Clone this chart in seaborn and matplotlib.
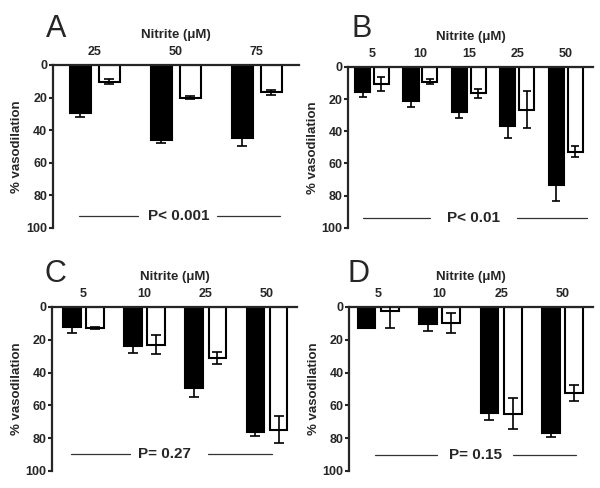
import pandas as pd
import seaborn as sns
import matplotlib.pyplot as plt

# Nitrite concentrations (uM) and % vasodilation
a_conc = ['25', '50', '75']
a_black = [29.6, 45.9, 44.9]
a_black_err = [2.4, 2.1, 4.7]
a_white = [10.2, 20.0, 16.9]
a_white_err = [1.6, 1.2, 1.8]

b_conc = ['5', '10', '15', '25', '50']
b_black = [15.7, 21.5, 28.2, 37.0, 73.3]
b_black_err = [2.9, 3.3, 3.7, 7.3, 9.7]
b_white = [10.6, 9.1, 16.4, 26.5, 52.6]
b_white_err = [4.4, 1.6, 2.7, 11.3, 3.2]

c_conc = ['5', '10', '25', '50']
c_black = [12.0, 23.8, 49.6, 76.0]
c_black_err = [3.6, 4.0, 5.1, 3.0]
c_white = [12.8, 23.0, 31.3, 74.8]
c_white_err = [0.8, 5.9, 3.7, 8.3]

d_conc = ['5', '10', '25', '50']
d_black = [12.6, 10.4, 64.4, 76.6]
d_black_err = [0.5, 4.2, 4.7, 2.9]
d_white = [2.4, 9.8, 65.0, 52.6]
d_white_err = [10.2, 6.2, 9.7, 4.7]

p_labels = ['P< 0.001', 'P< 0.01', 'P= 0.27', 'P= 0.15']
panel_letters = ['A', 'B', 'C', 'D']

sns.set_style('ticks')
plt.rcParams['font.family'] = ['Liberation Sans', 'DejaVu Sans']
plt.rcParams['font.weight'] = 'bold'

fig = plt.figure(figsize=(6, 4.88), dpi=100)

# axes rectangles (figure fractions) and bar layout per panel
panels = [
    dict(rect=[0.088, 0.533, 0.410, 0.334], conc=a_conc, black=a_black, black_err=a_black_err,
         white=a_white, white_err=a_white_err, xlim=(-0.52, 2.52), width=0.72, gap=0.28,
         cap=3.5, pline=(0.074, 0.106, 0.346, 0.512, 0.667, 0.923), letter_xy=(0.077, 0.924)),
    dict(rect=[0.580, 0.533, 0.408, 0.330], conc=b_conc, black=b_black, black_err=b_black_err,
         white=b_white, white_err=b_white_err, xlim=(-0.495, 4.56), width=0.78, gap=0.2,
         cap=3.0, pline=(0.062, 0.061, 0.335, 0.514, 0.690, 0.976), letter_xy=(0.586, 0.924)),
    dict(rect=[0.087, 0.035, 0.408, 0.336], conc=c_conc, black=c_black, black_err=c_black_err,
         white=c_white, white_err=c_white_err, xlim=(-0.51, 3.49), width=0.76, gap=0.24,
         cap=3.5, pline=(0.104, 0.078, 0.318, 0.457, 0.637, 0.898), letter_xy=(0.075, 0.422)),
    dict(rect=[0.582, 0.035, 0.407, 0.336], conc=d_conc, black=d_black, black_err=d_black_err,
         white=d_white, white_err=d_white_err, xlim=(-0.47, 3.5), width=0.76, gap=0.24,
         cap=3.5, pline=(0.098, 0.107, 0.360, 0.516, 0.672, 0.930), letter_xy=(0.579, 0.422)),
]

for p, letter, ptxt in zip(panels, panel_letters, p_labels):
    ax = fig.add_axes(p['rect'])
    n = len(p['conc'])
    df = pd.DataFrame({
        'conc': p['conc'] * 2,
        'group': ['black'] * n + ['white'] * n,
        'val': p['black'] + p['white'],
    })
    sns.barplot(data=df, x='conc', y='val', hue='group', hue_order=['black', 'white'],
                palette=['black', 'white'], order=p['conc'], errorbar=None,
                width=p['width'], gap=p['gap'], edgecolor='black', linewidth=1.5,
                legend=False, ax=ax)

    for cont, errs in zip(ax.containers, [p['black_err'], p['white_err']]):
        xs = [b.get_x() + b.get_width() / 2 for b in cont]
        ys = [b.get_height() for b in cont]
        ax.errorbar(xs, ys, yerr=errs, fmt='none', ecolor='black', elinewidth=1.2,
                    capsize=p['cap'], capthick=1.2, zorder=3)

    ax.set_ylim(100, 0)
    ax.set_xlim(*p['xlim'])
    ax.set_yticks([0, 20, 40, 60, 80, 100])
    ax.xaxis.tick_top()
    ax.xaxis.set_label_position('top')
    ax.set_xlabel('Nitrite (μM)', fontsize=9.5, fontweight='bold', labelpad=6)
    ax.set_ylabel('% vasodilation', fontsize=9.5, fontweight='bold', labelpad=2)
    ax.tick_params(axis='x', length=4, width=1.5, pad=1, labelsize=9)
    ax.tick_params(axis='y', length=3, width=1.5, pad=1, labelsize=9)
    for lab in ax.get_xticklabels() + ax.get_yticklabels():
        lab.set_fontweight('bold')
    sns.despine(ax=ax, top=False, right=True, bottom=True, left=False)
    ax.spines['top'].set_linewidth(1.6)
    ax.spines['left'].set_linewidth(1.6)
    ax.set_facecolor('white')

    yl, x0, x1, xt, x2, x3 = p['pline']
    ax.plot([x0, x1], [yl, yl], color='#333333', lw=0.9, transform=ax.transAxes, clip_on=False)
    ax.plot([x2, x3], [yl, yl], color='#333333', lw=0.9, transform=ax.transAxes, clip_on=False)
    ax.text(xt, yl, ptxt, transform=ax.transAxes, ha='center', va='center',
            fontsize=11, fontweight='bold')

    # panel letter
    lx, ly = p['letter_xy']
    fig.text(lx, ly, letter, fontsize=22, fontweight='normal', va='baseline')

fig.savefig('out.png', dpi=100, facecolor='white')
